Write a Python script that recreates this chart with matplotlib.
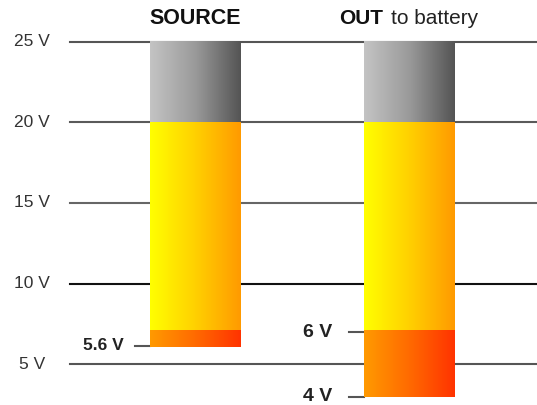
import numpy as np
import matplotlib.pyplot as plt
from matplotlib.colors import LinearSegmentedColormap
from matplotlib.transforms import blended_transform_factory

# data (volts, as drawn on the scale)
levels = [25, 20, 15, 10, 5]
level_labels = ["25 V", "20 V", "15 V", "10 V", "5 V"]
level_colors = ["#555555", "#5a5a5a", "#666666", "#111111", "#555555"]

bar_x = [0, 1]
grey_top = [25, 25]
yellow_top = [20, 20]
orange_top = [7.1, 7.1]
bar_bottom = [6.1, 3.0]

marker_bar = [0, 1, 1]
marker_y = [6.15, 7.0, 3.0]
marker_labels = ["5.6 V", "6 V", "4 V"]
marker_size = [12.5, 14, 14]
marker_gap = [-19, -23, -23]

width = 0.425

grey_cmap = LinearSegmentedColormap.from_list("grey", ["#c4c4c4", "#9a9a9a", "#545454"])
yellow_cmap = LinearSegmentedColormap.from_list("yellow", ["#ffff00", "#ffd000", "#ff9a00"])
orange_cmap = LinearSegmentedColormap.from_list("orange", ["#ff9a00", "#ff6a00", "#ff3300"])

fig = plt.figure(figsize=(5.37, 4.05), dpi=100)
ax = fig.add_axes([0, 0, 1, 1])
ax.axis("off")

grad = np.linspace(0, 1, 256).reshape(1, -1)


def draw_segment(x, bottom, top, cmap):
    ax.imshow(grad, cmap=cmap, aspect="auto", zorder=3,
              extent=[x - width / 2, x + width / 2, bottom, top])


for i, x in enumerate(bar_x):
    draw_segment(x, yellow_top[i], grey_top[i], grey_cmap)
    draw_segment(x, orange_top[i], yellow_top[i], yellow_cmap)
    draw_segment(x, bar_bottom[i], orange_top[i], orange_cmap)

trans = blended_transform_factory(ax.transAxes, ax.transData)
for y, lab, c in zip(levels, level_labels, level_colors):
    ax.axhline(y, xmin=0.13, xmax=1, color=c, lw=1.5, zorder=1)
    ax.text(0.06, y, lab, transform=trans, ha="center", va="center",
            fontsize=12.5, color="#333333", family="Liberation Sans")

for b, y, lab, fs, gap in zip(marker_bar, marker_y, marker_labels, marker_size, marker_gap):
    left = bar_x[b] - width / 2
    ax.plot([left - 0.072, left], [y, y], color="#555555", lw=1.5, zorder=2)
    ax.annotate(lab, xy=(left, y), xytext=(gap, 0), textcoords="offset points",
                ha="right", va="center", fontsize=fs, fontweight="bold",
                color="#222222", family="Liberation Sans")

ax.text(bar_x[0], 26.45, "SOURCE", ha="center", va="center", fontsize=15.5,
        fontweight="bold", color="#111111", family="Liberation Sans")
ax.text(bar_x[1] - 0.125, 26.45, "OUT", ha="right", va="center", fontsize=15,
        fontweight="bold", color="#111111", family="Liberation Sans")
ax.text(bar_x[1] - 0.085, 26.45, "to battery", ha="left", va="center",
        fontsize=15, color="#222222", family="Liberation Sans")

ax.set_xlim(-0.9136, 1.5958)
ax.set_ylim(2.49, 27.57)

fig.savefig("out.png", dpi=100)
